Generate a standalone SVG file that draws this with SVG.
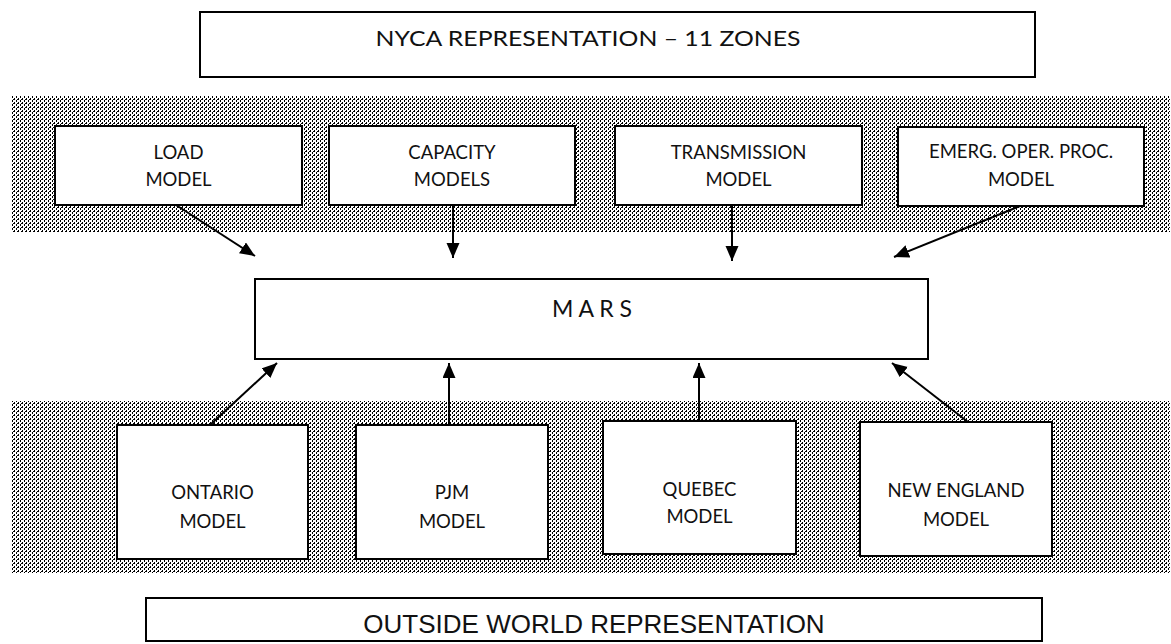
<svg xmlns="http://www.w3.org/2000/svg" width="1171" height="644" viewBox="0 0 1171 644">
<style>
.box{fill:#fff;stroke:#000;stroke-width:2}
.lbl{font-family:Lato,"Open Sans","Liberation Sans",sans-serif;font-size:18.5px;fill:#111;text-anchor:middle}
.conn line{stroke:#000;stroke-width:2;marker-end:url(#ah)}
</style>
<defs>
<pattern id="dots" patternUnits="userSpaceOnUse" width="4" height="4">
<rect x="0" y="0" width="1" height="2" fill="#000"/>
<rect x="2" y="2" width="1" height="2" fill="#000"/>
<rect x="1" y="3" width="1" height="1" fill="#000"/>
</pattern>
<marker id="ah" markerUnits="userSpaceOnUse" markerWidth="16" markerHeight="14" refX="15" refY="6.5" orient="auto">
<path d="M0,0 L15,6.5 L0,13 z" fill="#000"/>
</marker>
</defs>
<rect width="1171" height="644" fill="#fff"/>
<g id="bands">
<rect x="11" y="96" width="1159" height="136" fill="url(#dots)"/>
<rect x="11" y="401" width="1159" height="172" fill="url(#dots)"/>
</g>
<g id="nyca">
<rect class="box" x="200" y="12" width="835" height="65"/>
<text class="lbl" x="588" y="46" style="font-size:21px" textLength="425" lengthAdjust="spacingAndGlyphs">NYCA REPRESENTATION – 11 ZONES</text>
</g>
<g id="load">
<rect class="box" x="55" y="126" width="247" height="79"/>
<text class="lbl" x="178.5" y="159">LOAD</text>
<text class="lbl" x="178.5" y="186">MODEL</text>
</g>
<g id="capacity">
<rect class="box" x="329" y="126" width="246" height="79"/>
<text class="lbl" x="452" y="159">CAPACITY</text>
<text class="lbl" x="452" y="186">MODELS</text>
</g>
<g id="transmission">
<rect class="box" x="615" y="126" width="247" height="79"/>
<text class="lbl" x="738.5" y="159">TRANSMISSION</text>
<text class="lbl" x="738.5" y="186">MODEL</text>
</g>
<g id="emerg">
<rect class="box" x="898" y="127" width="246" height="79"/>
<text class="lbl" x="1021" y="158">EMERG. OPER. PROC.</text>
<text class="lbl" x="1021" y="186">MODEL</text>
</g>
<g id="mars">
<rect class="box" x="255" y="279" width="673" height="80"/>
<text class="lbl" x="592" y="317" style="font-size:23px">M A R S</text>
</g>
<g id="ontario">
<rect class="box" x="117" y="425" width="191" height="134"/>
<text class="lbl" x="212.5" y="499">ONTARIO</text>
<text class="lbl" x="212.5" y="528">MODEL</text>
</g>
<g id="pjm">
<rect class="box" x="356" y="425" width="192" height="134"/>
<text class="lbl" x="452" y="499">PJM</text>
<text class="lbl" x="452" y="528">MODEL</text>
</g>
<g id="quebec">
<rect class="box" x="603" y="421" width="193" height="133"/>
<text class="lbl" x="699.5" y="496">QUEBEC</text>
<text class="lbl" x="699.5" y="523">MODEL</text>
</g>
<g id="newengland">
<rect class="box" x="860" y="422" width="192" height="134"/>
<text class="lbl" x="956" y="497">NEW ENGLAND</text>
<text class="lbl" x="956" y="526">MODEL</text>
</g>
<g id="outside">
<rect class="box" x="146" y="598" width="896" height="43"/>
<text x="594" y="633" style="font-family:'Liberation Sans',Arial,sans-serif;font-size:26px;fill:#111;text-anchor:middle">OUTSIDE WORLD REPRESENTATION</text>
</g>
<g id="connectors" class="conn">
<line x1="176" y1="205" x2="255" y2="256"/>
<line x1="453" y1="205" x2="453" y2="258"/>
<line x1="732" y1="205" x2="732" y2="261"/>
<line x1="1020" y1="206" x2="894" y2="257"/>
<line x1="210" y1="425" x2="277" y2="363"/>
<line x1="449" y1="425" x2="449" y2="363"/>
<line x1="699" y1="421" x2="699" y2="363"/>
<line x1="968" y1="422" x2="892" y2="363"/>
</g>
</svg>
